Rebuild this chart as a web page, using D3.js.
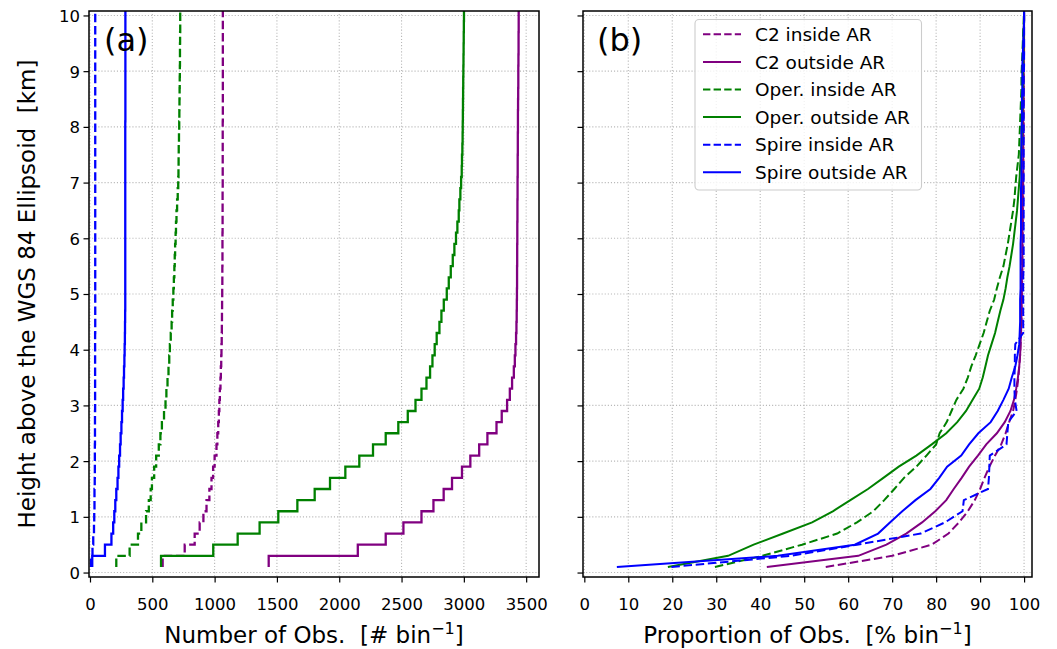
<!DOCTYPE html>
<html><head><meta charset="utf-8">
<script src="https://cdn.jsdelivr.net/npm/d3@7"></script>
<style>
body{margin:0;background:#fff}
svg text{font-family:"DejaVu Sans",sans-serif;fill:#000}
</style></head>
<body><svg id="c" width="1057" height="649"></svg>
<script>
// ---------- data ----------
const heights = [0.1,0.3,0.5,0.7,0.9,1.1,1.3,1.5,1.7,1.9,
  2.1,2.3,2.5,2.7,2.9,3.1,3.3,3.5,3.7,3.9,
  4.1,4.3,4.5,4.7,4.9,5.1,5.3,5.5,5.7,5.9,
  6.1,6.3,6.5,6.7,6.9,7.1,7.3,7.5,7.7,7.9,
  8.1,8.3,8.5,8.7,8.9,9.1,9.3,9.5,9.7,9.9,
  10.1];

// panel (a): number of obs per bin (cumulative)
const c2In = [583,760,840,880,910,935,958,975,988,1000,
  1015,1022,1029,1034,1038,1042,1047,1050,1053,1055,
  1057,1058,1059,1060,1061,1062,1062,1063,1063,1063,
  1064,1064,1064,1064,1065,1065,1065,1065,1065,1065,
  1066,1066,1066,1066,1066,1066,1066,1066,1066,1066,
  1066];
const c2Out = [1434,2149,2373,2515,2660,2756,2838,2905,2985,3052,
  3123,3189,3262,3304,3347,3369,3387,3401,3409,3414,
  3419,3422,3424,3425,3426,3427,3427,3428,3428,3429,
  3429,3430,3430,3431,3431,3432,3432,3433,3433,3434,
  3434,3435,3436,3437,3437,3438,3439,3439,3440,3440,
  3441];
const operIn = [211,318,385,412,450,472,487,497,515,531,
  552,565,577,594,606,613,622,630,636,641,
  648,655,659,664,669,673,677,680,683,687,
  690,694,699,704,708,710,711,712,714,716,
  717,718,719,720,721,722,722,723,724,724,
  725];
const operOut = [570,989,1185,1361,1511,1664,1803,1926,2049,2161,
  2271,2373,2474,2550,2612,2660,2700,2729,2748,2766,
  2782,2804,2820,2839,2863,2879,2895,2911,2924,2937,
  2948,2959,2964,2972,2978,2983,2985,2988,2990,2991,
  2992,2993,2994,2995,2996,2997,2998,2999,3000,3001,
  3002];
const spireIn = [8,20,26,32,34,36,36,38,39,39,
  39,40,40,40,41,41,41,41,41,41,
  41,42,42,42,42,42,42,42,42,42,
  42,42,42,42,42,42,42,42,42,42,
  42,42,42,42,42,42,42,42,42,42,
  42];
const spireOut = [18,120,172,186,195,203,211,221,228,234,
  241,246,252,257,262,266,270,273,276,278,
  280,281,282,283,283,283,283,283,283,283,
  283,283,283,283,283,283,283,283,283,283,
  284,284,284,284,284,284,284,284,284,284,
  284];

// panel (b): proportion of obs per bin [%]
const pc2In = [54.9,70.0,79.0,82.8,85.2,87.2,88.8,90.0,91.0,92.1,
  93.4,94.8,95.8,96.6,97.5,98.0,98.4,98.7,98.9,99.1,
  99.2,99.3,99.4,99.4,99.5,99.5,99.6,99.6,99.6,99.7,
  99.7,99.7,99.7,99.8,99.8,99.8,99.8,99.8,99.8,99.9,
  99.9,99.9,99.9,99.9,99.9,99.9,99.9,99.9,99.9,100,
  100];
const pc2Out = [41.5,62.3,68.7,73.2,76.8,79.8,82.3,84.0,85.8,87.5,
  89.5,91.4,93.8,95.6,96.9,97.7,98.2,98.6,98.9,99.1,
  99.2,99.3,99.4,99.4,99.5,99.5,99.5,99.6,99.6,99.6,
  99.6,99.7,99.7,99.7,99.7,99.8,99.8,99.8,99.8,99.8,
  99.8,99.8,99.9,99.9,99.9,99.9,100,100,100,100,
  100];
const pOperIn = [29.7,40.5,49.5,57.5,62.0,65.7,68.2,70.5,72.7,75.5,
  77.8,80.0,80.8,82.4,83.5,84.6,86.2,87.2,88.0,89.0,
  89.9,90.8,91.5,92.2,93.2,93.8,94.5,95.3,95.8,96.3,
  96.7,97.1,97.5,97.8,98.0,98.2,98.5,98.8,98.9,99.0,
  99.1,99.2,99.3,99.4,99.4,99.5,99.6,99.7,99.8,99.9,
  100];
const pOperOut = [19.0,32.7,38.5,45.2,51.8,56.5,60.5,64.5,68.0,71.5,
  75.5,79.0,82.3,84.8,86.8,88.3,89.8,90.6,91.2,91.8,
  92.6,93.4,94.0,94.6,95.3,95.8,96.2,96.7,97.1,97.5,
  97.8,98.1,98.4,98.6,98.8,99.0,99.1,99.3,99.4,99.5,
  99.5,99.6,99.6,99.7,99.7,99.8,99.8,99.9,99.9,100,
  100];
const pSpireIn = [19.8,47.0,62.0,76.5,82.0,86.0,86.3,91.8,92.0,92.1,
  92.2,96.0,96.2,96.4,98.3,97.9,97.8,97.8,97.9,97.9,
  98.0,99.8,99.8,99.8,99.8,99.8,99.8,99.9,99.9,99.9,
  99.9,99.9,99.9,99.9,99.9,99.9,99.9,99.9,99.9,99.9,
  99.9,99.9,99.9,99.9,99.9,100,100,100,100,100,
  100];
const pSpireOut = [7.4,44.0,61.5,66.8,69.5,72.3,75.3,78.7,80.7,82.5,
  85.7,87.5,89.6,92.4,94.0,95.3,96.5,97.2,98.0,98.5,
  98.9,99.0,99.1,99.1,99.1,99.2,99.2,99.2,99.2,99.2,
  99.3,99.3,99.3,99.3,99.3,99.4,99.4,99.4,99.4,99.4,
  99.5,99.5,99.5,99.6,99.6,99.6,99.7,99.8,99.9,100,
  100];

const seriesNames = ["C2 inside AR","C2 outside AR","Oper. inside AR","Oper. outside AR","Spire inside AR","Spire outside AR"];
const seriesColors = ["purple","purple","green","green","blue","blue"];
const seriesDashed = [true,false,true,false,true,false];
const countsA = [c2In,c2Out,operIn,operOut,spireIn,spireOut];
const propsB = [pc2In,pc2Out,pOperIn,pOperOut,pSpireIn,pSpireOut];

const yTicks = [0,1,2,3,4,5,6,7,8,9,10];
const xTicksA = [0,500,1000,1500,2000,2500,3000,3500];
const xTicksB = [0,10,20,30,40,50,60,70,80,90,100];

// ---------- drawing ----------
const svg = d3.select("#c");
const T = 11, B = 577;
const y = d3.scaleLinear().domain([-0.08,10.08]).range([B,T]);

const panels = [
  {id:"a", x:d3.scaleLinear().domain([-8,3603]).range([89,539]), ticks:xTicksA,
   data:countsA, curve:d3.curveStepBefore, lw:2.3, letter:"(a)", letterX:104,
   label:"Number of Obs.  [# bin", showY:true},
  {id:"b", x:d3.scaleLinear().domain([-0.3,101.8]).range([583,1032]), ticks:xTicksB,
   data:propsB, curve:d3.curveLinear, lw:2.0, letter:"(b)", letterX:597,
   label:"Proportion of Obs.  [% bin", showY:false}
];

const defs = svg.append("defs");

panels.forEach(p => {
  const L = p.x.range()[0], R = p.x.range()[1];
  defs.append("clipPath").attr("id","clip"+p.id)
    .append("rect").attr("x",L).attr("y",T).attr("width",R-L).attr("height",B-T);

  const g = svg.append("g");
  // grid
  const grid = g.append("g").attr("stroke","#b8b8b8").attr("stroke-width",1.1)
    .attr("stroke-dasharray","1.1,2").attr("fill","none");
  grid.selectAll(".gv").data(p.ticks).join("line")
    .attr("x1",d=>p.x(d)).attr("x2",d=>p.x(d)).attr("y1",T).attr("y2",B);
  grid.selectAll(".gh").data(yTicks).join("line")
    .attr("y1",d=>y(d)).attr("y2",d=>y(d)).attr("x1",L).attr("x2",R);

  // lines
  const lg = g.append("g").attr("clip-path",`url(#clip${p.id})`);
  const line = d3.line().x(d=>p.x(d[0])).y(d=>y(d[1])).curve(p.curve);
  p.data.forEach((vals,i) => {
    const pts = vals.map((v,j)=>[v,heights[j]]);
    lg.append("path").attr("d",line(pts)).attr("fill","none")
      .attr("stroke",seriesColors[i]).attr("stroke-width",p.lw)
      .attr("stroke-linejoin","miter")
      .attr("stroke-dasharray",seriesDashed[i]?"8.5,3.7":null);
  });

  // axes
  const ax = g.append("g").attr("transform",`translate(0,${B})`)
    .call(d3.axisBottom(p.x).tickValues(p.ticks).tickFormat(d3.format("d"))
      .tickSize(5.5).tickSizeOuter(0));
  ax.select(".domain").remove();
  ax.selectAll(".tick line").attr("stroke","#000").attr("stroke-width",1.2);
  ax.selectAll(".tick text").attr("y",33).attr("dy",null).style("font-size","16.5px");

  const ay = g.append("g").attr("transform",`translate(${L},0)`)
    .call(d3.axisLeft(y).tickValues(yTicks).tickSize(5.5).tickSizeOuter(0)
      .tickFormat(p.showY ? d3.format("d") : ()=>""));
  ay.select(".domain").remove();
  ay.selectAll(".tick line").attr("stroke","#000").attr("stroke-width",1.2);
  ay.selectAll(".tick text").attr("x",-9).attr("dy","0.36em").style("font-size","16.5px");

  // spines
  g.append("rect").attr("x",L).attr("y",T).attr("width",R-L).attr("height",B-T)
    .attr("fill","none").attr("stroke","#000").attr("stroke-width",1.5);

  // x label
  const xl = g.append("text").attr("x",(L+R)/2).attr("y",643)
    .attr("text-anchor","middle").style("font-size","23px").style("white-space","pre");
  xl.append("tspan").text(p.label);
  xl.append("tspan").attr("dy",-9).style("font-size","16px").text("\u22121");
  xl.append("tspan").attr("dy",9).text("]");

  // panel letter
  g.append("text").attr("x",p.letterX).attr("y",51).style("font-size","32px").text(p.letter);
});

// y label
svg.append("text").attr("transform","translate(35,294) rotate(-90)")
  .attr("text-anchor","middle").style("font-size","23px").style("white-space","pre")
  .text("Height above the WGS 84 Ellipsoid  [km]");

// legend
const leg = svg.append("g");
leg.append("rect").attr("x",695).attr("y",19.5).attr("width",226.5).attr("height",170.5)
  .attr("rx",4).attr("fill","#fff").attr("fill-opacity",0.8)
  .attr("stroke","#cccccc").attr("stroke-width",1.1);
const rowY = d3.scaleLinear().domain([0,5]).range([34.3,172.3]);
seriesNames.forEach((n,i)=>{
  leg.append("line").attr("x1",703).attr("x2",741).attr("y1",rowY(i)).attr("y2",rowY(i))
    .attr("stroke",seriesColors[i]).attr("stroke-width",2)
    .attr("stroke-dasharray",seriesDashed[i]?"7.4,3.2":null);
  leg.append("text").attr("x",755).attr("y",rowY(i)).attr("dy","0.36em")
    .style("font-size","18.5px").text(n);
});
</script></body></html>
